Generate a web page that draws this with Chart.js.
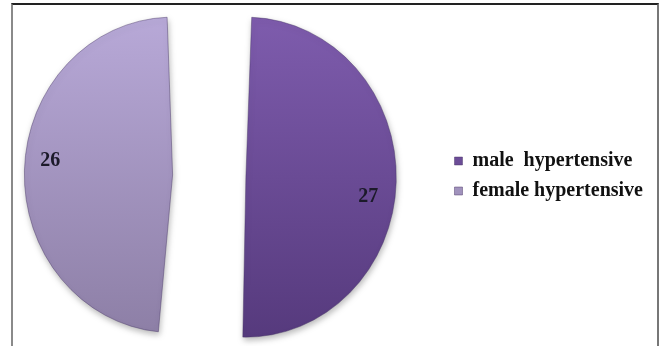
<!DOCTYPE html>
<html>
<head>
<meta charset="utf-8">
<script src="https://cdn.jsdelivr.net/npm/chart.js@4.4.1/dist/chart.umd.min.js"></script>
<style>
  html, body { margin: 0; padding: 0; background: #fff; }
  #wrap { position: relative; width: 659px; height: 346px; overflow: hidden; }
  /* canvas runs a little past the left edge so the pie sits left of centre */
  #pieChart { position: absolute; left: -26px; top: 0; }
  #frame {
    position: absolute; left: 11px; top: 3px; width: 648px; height: 360px;
    box-sizing: border-box;
    border-top: 2px solid #222;
    border-left: 2px solid #8a8a8a;
    border-right: 2px solid #777;
  }
</style>
</head>
<body>
<div id="wrap">
  <canvas id="pieChart" width="685" height="346"></canvas>
  <div id="frame"></div>
</div>
<script>
const categories = ['male  hypertensive', 'female hypertensive'];
const patients = [27, 26];

// slice shading, light at the top and dark at the bottom
const topColors = ['#7e5cad', '#b8a9d8'];
const bottomColors = ['#563a7d', '#8d7fa6'];
const labelTilt = 0.075;
// pie is drawn a bit narrower than tall, like a tilted 3d pie
const squash = 0.94;

function sliceFill(c) {
    const area = c.chart.chartArea;
    const i = c.dataIndex;
    if (!area) return topColors[i];
    const g = c.chart.ctx.createLinearGradient(0, 16, 0, 336);
    g.addColorStop(0, topColors[i]);
    g.addColorStop(1, bottomColors[i]);
    return g;
}

// narrow the pie around its centre and give it a soft drop shadow
const pieSquash = {
    id: 'pieSquash',
    beforeDatasetsDraw(chart) {
        const ctx = chart.ctx;
        const a = chart.chartArea;
        const cx = (a.left + a.right) / 2;
        ctx.save();
        ctx.translate(cx, 0);
        ctx.scale(squash, 1);
        ctx.translate(-cx, 0);
        ctx.shadowColor = 'rgba(0, 0, 0, 0.28)';
        ctx.shadowBlur = 6;
        ctx.shadowOffsetX = 1;
        ctx.shadowOffsetY = 3;
    },
    afterDatasetsDraw(chart) {
        chart.ctx.restore();
    }
};

// value written inside each slice
const sliceLabels = {
    id: 'sliceLabels',
    afterDatasetsDraw(chart) {
        const ctx = chart.ctx;
        const meta = chart.getDatasetMeta(0);
        ctx.save();
        ctx.font = 'bold 20px "Liberation Serif", "Times New Roman", serif';
        ctx.fillStyle = '#1c1a2a';
        ctx.textAlign = 'center';
        ctx.textBaseline = 'alphabetic';
        meta.data.forEach((arc, i) => {
            const p = arc.getProps(['x', 'y', 'startAngle', 'endAngle', 'outerRadius'], true);
            const mid = (p.startAngle + p.endAngle) / 2 + labelTilt;
            // the arc is pushed out by offset/4 and grows by about the same amount
            const push = arc.options.offset / 4;
            const dist = push + (p.outerRadius + push) * 0.82;
            const lx = p.x + Math.cos(mid) * dist * squash;
            const ly = p.y + Math.sin(mid) * dist + 8;
            ctx.fillText(String(patients[i]), lx, ly);
        });
        ctx.restore();
    }
};

new Chart(document.getElementById('pieChart'), {
    type: 'pie',
    data: {
        labels: categories,
        datasets: [{
            data: patients,
            backgroundColor: sliceFill,
            borderColor: 'rgba(70, 50, 100, 0.45)',
            borderWidth: 1,
            offset: 156
        }]
    },
    options: {
        responsive: false,
        animation: false,
        devicePixelRatio: 1,
        rotation: 0,
        radius: 121,
        layout: {
            padding: { left: 0, right: 6, top: 6, bottom: 0 }
        },
        plugins: {
            legend: {
                position: 'right',
                labels: {
                    boxWidth: 8,
                    boxHeight: 8,
                    padding: 10,
                    color: '#111',
                    font: {
                        family: '"Liberation Serif", "Times New Roman", serif',
                        size: 20,
                        weight: 'bold'
                    }
                }
            },
            tooltip: { enabled: false }
        }
    },
    plugins: [pieSquash, sliceLabels]
});
</script>
</body>
</html>
